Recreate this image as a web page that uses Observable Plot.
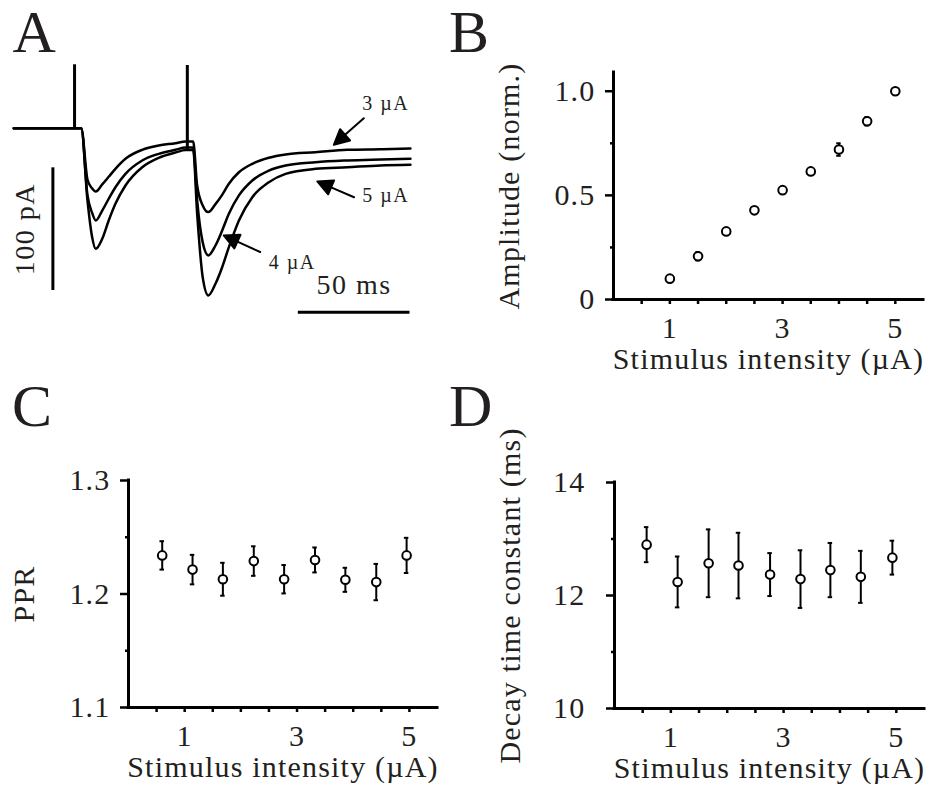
<!DOCTYPE html>
<html><head><meta charset="utf-8">
<script src="https://cdn.jsdelivr.net/npm/d3@7"></script>
<script src="https://cdn.jsdelivr.net/npm/@observablehq/plot@0.6"></script>
<style>
body{margin:0;background:#fff;}
#fig{position:relative;width:930px;height:785px;overflow:hidden;background:#fff;}
#fig > svg{position:absolute;}
</style></head><body><div id="fig"></div>
<script>
// ---------- Panel A: EPSC traces (time in ms, current in pA) ----------
const traceTime = [0, 27.2, 30.2, 33.0, 35.0, 36.7, 39.6, 42.5, 45.5, 50.0, 57.5, 64.9, 72.4, 76.9, 80.3, 82.1, 84.6, 87.1, 90.3, 93.3, 96.3, 100.8, 106.8, 114.2, 121.7, 135.1, 149.3, 164.2, 177.6];
const trace3uA = [0, 0, 0, -42, -49, -51.6, -45.8, -39.6, -33.1, -24.9, -17.6, -14.1, -12.2, -10.8, -10.8, -46.7, -63, -68.4, -61.9, -54.3, -45.3, -35.9, -29.0, -24.1, -21.4, -19.6, -17.6, -17.1, -16.5];
const trace4uA = [0, 0, 0, -54.8, -68.7, -75.2, -67.1, -57.5, -48.1, -37.2, -26.3, -20.9, -17.6, -15.7, -15.7, -58.9, -93.2, -103.7, -95.6, -83.4, -69.8, -54.8, -42.6, -34.5, -30.4, -27.7, -26.3, -25.5, -24.9];
const trace5uA = [0, 0, 0, -59, -88, -98.3, -90.1, -75.2, -61.6, -46.7, -31.8, -24.1, -19.8, -17.8, -17.8, -69.8, -121.7, -136.3, -126.8, -113.3, -97.0, -75.2, -56.2, -44.0, -37.2, -33.1, -31.8, -30.4, -29.8];
const stimTime = [27.2, 77.7];
const stimBase = [0, -17.8];
const stimPeak = [51.7, 51.1];
const traceLabels = ["3 µA", "5 µA", "4 µA"];
const labelTime = [156.0, 156.0, 114.2];
const labelCurrent = [15.2, -60.3, -114.6];
const arrowTipTime = [143.3, 135.9, 94.0];
const arrowTipCurrent = [-13.5, -43.4, -87.4];
const arrowAngle = [228.5, 293.2, 294.5];
const scaleBarTime = [127.4, 177.4];      // 50 ms
const scaleBarCurrent = [-32.3, -132.3];  // 100 pA
const scaleBarTimeAt = 17.5;
const scaleBarCurrentAt = -150;
const scaleBarLabels = ["100 pA", "50 ms"];

// ---------- Panel B ----------
const intensityB = [1, 1.5, 2, 2.5, 3, 3.5, 4, 4.5, 5];
const amplitude = [0.10, 0.208, 0.327, 0.428, 0.525, 0.615, 0.72, 0.856, 1.0];
const amplitudeErr = [0.01, 0.02, 0.01, 0.01, 0.01, 0.01, 0.03, 0.02, 0.01];

// ---------- Panel C ----------
const intensityC = [0.6, 1.14, 1.68, 2.23, 2.77, 3.32, 3.86, 4.41, 4.95];
const ppr = [1.234, 1.2215, 1.213, 1.229, 1.213, 1.230, 1.2125, 1.2105, 1.234];
const pprErr = [0.0125, 0.013, 0.0145, 0.013, 0.0125, 0.011, 0.0106, 0.016, 0.0155];

// ---------- Panel D ----------
const intensityD = [0.57, 1.12, 1.67, 2.2, 2.76, 3.3, 3.83, 4.37, 4.93];
const decayTau = [12.9, 12.24, 12.57, 12.53, 12.37, 12.29, 12.45, 12.33, 12.67];
const decayErr = [0.31, 0.45, 0.6, 0.58, 0.38, 0.51, 0.48, 0.46, 0.3];

const xTicks = [0.5, 1, 1.5, 2, 2.5, 3, 3.5, 4, 4.5, 5];
const xTickLabels = [1, 3, 5];
const xLabel = "Stimulus intensity (µA)";
const panelLetters = ["A", "B", "C", "D"];

const FONT = "'Liberation Serif', 'Times New Roman', serif";
const INK = "#231f20";
const fig = document.getElementById("fig");

function place(svg, left, top) {
  svg.style.left = left + "px";
  svg.style.top = top + "px";
  fig.appendChild(svg);
}

// ---- Panel A ----
const traceRows = [];
[[trace3uA, "3"], [trace4uA, "4"], [trace5uA, "5"]].forEach(([arr, k]) =>
  traceTime.forEach((t, i) => traceRows.push({t, I: arr[i], k})));
const stims = stimTime.map((t, i) => ({t, y1: stimBase[i], y2: stimPeak[i]}));
const labelsA = traceLabels.map((s, i) => ({s, t: labelTime[i], I: labelCurrent[i]}));
const arrowsA = arrowAngle.map((a, i) => ({a, t: arrowTipTime[i], I: arrowTipCurrent[i]}));
const filledArrow = {
  draw(context, l) {
    const h = 15, w = 7.5;
    context.moveTo(0, 0);
    context.lineTo(0, -l + h);
    context.moveTo(0, -l);
    context.lineTo(-w, -l + h);
    context.lineTo(w, -l + h);
    context.closePath();
  }
};
const midBar = (scaleBarCurrent[0] + scaleBarCurrent[1]) / 2;
const midTime = (scaleBarTime[0] + scaleBarTime[1]) / 2;

const plotA = Plot.plot({
  width: 430, height: 330,
  marginLeft: 13.3, marginRight: 14.7, marginTop: 54.1, marginBottom: 6,
  x: {domain: [0, 180], axis: null},
  y: {domain: [-160, 60], axis: null},
  style: {fontFamily: FONT, color: INK, background: "transparent", letterSpacing: "1.5px", overflow: "visible"},
  marks: [
    Plot.line(traceRows, {x: "t", y: "I", z: "k", stroke: "black", strokeWidth: 2.5, curve: "monotone-x"}),
    Plot.ruleX(stims, {x: "t", y1: "y1", y2: "y2", stroke: "black", strokeWidth: 3}),
    Plot.ruleX([scaleBarTimeAt], {y1: scaleBarCurrent[0], y2: scaleBarCurrent[1], stroke: "black", strokeWidth: 3}),
    Plot.ruleY([scaleBarCurrentAt], {x1: scaleBarTime[0], x2: scaleBarTime[1], stroke: "black", strokeWidth: 3}),
    Plot.text([scaleBarLabels[0]], {x: scaleBarTimeAt, y: midBar, text: d => d, rotate: -90, dx: -28, textAnchor: "middle", lineAnchor: "middle", fontSize: 28, fill: INK}),
    Plot.text([scaleBarLabels[1]], {x: midTime, y: scaleBarCurrentAt, text: d => d, dy: -18, textAnchor: "middle", lineAnchor: "bottom", fontSize: 28, fill: INK}),
    Plot.text(labelsA, {x: "t", y: "I", text: "s", textAnchor: "start", lineAnchor: "bottom", fontSize: 20, fill: INK}),
    Plot.vector(arrowsA, {x: "t", y: "I", rotate: "a", length: 40, anchor: "end", shape: filledArrow, fill: "black", stroke: "black", strokeWidth: 2})
  ]
});
place(plotA, 0, 0);

// ---- scatter panels ----
function scatterPanel(cfg) {
  const rows = cfg.xs.map((x, i) => ({x, y: cfg.ys[i], e: cfg.es[i]}));
  return Plot.plot({
    width: cfg.width, height: cfg.height,
    marginLeft: cfg.ml, marginRight: cfg.mr, marginTop: cfg.mt, marginBottom: cfg.mb,
    x: {domain: [0, 5.5]},
    y: {domain: cfg.yDomain},
    style: {fontFamily: FONT, fontSize: "30px", letterSpacing: "1.2px", color: INK, background: "transparent", overflow: "visible"},
    marks: [
      Plot.axisY({ticks: cfg.yMajor, tickFormat: cfg.yFmt, tickSize: 8, tickPadding: cfg.padY, strokeWidth: 2.5, stroke: "black", fill: INK,
        label: cfg.yLabel, labelAnchor: "center", labelOffset: 116, labelArrow: "none"}),
      Plot.axisY({ticks: cfg.yMinor, tickSize: 3, text: null, label: null, strokeWidth: 2.5, stroke: "black"}),
      Plot.axisX({ticks: xTicks, tickSize: 5, tickPadding: 12, strokeWidth: 2.5, stroke: "black", fill: INK,
        tickFormat: d => xTickLabels.includes(d) ? String(d) : "",
        label: xLabel, labelAnchor: "center", labelOffset: 69, labelArrow: "none"}),
      Plot.ruleX([0], {stroke: "black", strokeWidth: 3, strokeLinecap: "square"}),
      Plot.ruleY([cfg.yDomain[0]], {stroke: "black", strokeWidth: 3, strokeLinecap: "square"}),
      Plot.ruleX(rows, {x: "x", y1: d => d.y - d.e, y2: d => d.y + d.e, stroke: "black", strokeWidth: 2}),
      Plot.ruleY(rows, {y: d => d.y + d.e, x1: d => d.x - 0.04, x2: d => d.x + 0.04, stroke: "black", strokeWidth: 2}),
      Plot.ruleY(rows, {y: d => d.y - d.e, x1: d => d.x - 0.04, x2: d => d.x + 0.04, stroke: "black", strokeWidth: 2}),
      Plot.dot(rows, {x: "x", y: "y", r: 4.3, fill: "white", stroke: "black", strokeWidth: 2})
    ]
  });
}

const plotB = scatterPanel({xs: intensityB, ys: amplitude, es: amplitudeErr,
  yDomain: [0, 1.09], yMajor: [0, 0.5, 1], yMinor: [0.25, 0.75],
  yFmt: d => d === 0 ? "0" : d3.format(".1f")(d), yLabel: "Amplitude (norm.)",
  width: 500, height: 380, ml: 183, mr: 7, mt: 72, mb: 81, padY: 10});
place(plotB, 430, 0);

const plotC = scatterPanel({xs: intensityC, ys: ppr, es: pprErr,
  yDomain: [1.1, 1.3], yMajor: [1.1, 1.2, 1.3], yMinor: [1.15, 1.25],
  yFmt: d3.format(".1f"), yLabel: "PPR",
  width: 460, height: 405, ml: 128, mr: 23, mt: 100, mb: 78, padY: 10});
place(plotC, 0, 380);

const plotD = scatterPanel({xs: intensityD, ys: decayTau, es: decayErr,
  yDomain: [10, 14], yMajor: [10, 12, 14], yMinor: [11, 13],
  yFmt: d3.format("d"), yLabel: "Decay time constant (ms)",
  width: 470, height: 405, ml: 154, mr: 6, mt: 102, mb: 77, padY: 21});
place(plotD, 460, 380);

// ---- panel letters ----
const overlay = d3.create("svg").attr("width", 930).attr("height", 785)
  .style("left", "0px").style("top", "0px").style("pointer-events", "none");
const letterPos = [[12.5, 52], [449, 52], [12, 426], [449, 426]];
panelLetters.forEach((L, i) => overlay.append("text")
  .attr("x", letterPos[i][0]).attr("y", letterPos[i][1])
  .attr("font-family", FONT).attr("font-size", 60).attr("fill", INK).text(L));
fig.appendChild(overlay.node());
</script></body></html>
